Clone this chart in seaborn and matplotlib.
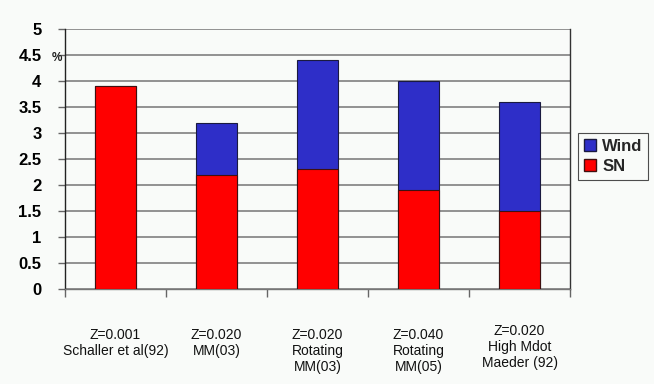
import matplotlib
matplotlib.use("Agg")
import matplotlib.pyplot as plt
import matplotlib.transforms as mtransforms
from matplotlib.patches import Patch
import numpy as np
import pandas as pd
import seaborn as sns

# Model runs (x categories)
categories = [
    "Z=0.001\nSchaller et al(92)",
    "Z=0.020\nMM(03)",
    "Z=0.020\nRotating\nMM(03)",
    "Z=0.040\nRotating\nMM(05)",
    "Z=0.020\nHigh Mdot\nMaeder (92)",
]
# Percent contributions
sn_values = [3.9, 2.2, 2.3, 1.9, 1.5]
wind_values = [0.0, 1.0, 2.1, 2.1, 2.1]

y_ticks = [0, 0.5, 1, 1.5, 2, 2.5, 3, 3.5, 4, 4.5, 5]
y_tick_labels = ["0", "0.5", "1", "1.5", "2", "2.5", "3", "3.5", "4", "4.5", "5"]

df = pd.DataFrame({
    "model": categories,
    "SN": sn_values,
    "Wind": wind_values,
})
df["Total"] = df["SN"] + df["Wind"]

bg = "#f9fbf9"
red = "#ff0000"
blue = "#2e2ec8"

sns.set_theme(style="white")
plt.rcParams["font.family"] = ["Liberation Sans", "DejaVu Sans"]

fig = plt.figure(figsize=(6.54, 3.84), dpi=100, facecolor=bg)
ax = fig.add_axes([65 / 654, 1 - 289 / 384, 505 / 654, 260 / 384])
ax.set_facecolor(bg)

# Stacked bars: total height in blue, SN portion in red on top of it
sns.barplot(data=df, x="model", y="Total", order=categories, color=blue,
            width=0.41, edgecolor="#1a1a40", linewidth=0.8, saturation=1,
            ax=ax, zorder=3)
sns.barplot(data=df, x="model", y="SN", order=categories, color=red,
            width=0.41, edgecolor="#401010", linewidth=0.8, saturation=1,
            ax=ax, zorder=4)

ax.set_xlim(-0.5, len(categories) - 0.5)
ax.set_ylim(0, 5)
ax.set_xlabel("")
ax.set_ylabel("")

# Horizontal gridlines
ax.set_yticks(y_ticks)
ax.set_yticklabels(y_tick_labels, fontsize=12, fontweight="bold", color="#000000")
ax.yaxis.grid(True, color="#8a8a8a", linewidth=1.3, zorder=0)
ax.set_axisbelow(True)
ax.tick_params(axis="y", length=5, width=1, color="#666666", pad=12, left=True)

# Category labels with tick marks at category boundaries
ax.set_xticks(range(len(categories)))
ax.set_xticklabels(categories, fontsize=10, color="#111111", linespacing=1.2,
                   va="top")
ax.tick_params(axis="x", which="major", length=0, pad=28)
ax.set_xticks(np.arange(-0.5, len(categories), 1.0), minor=True)
ax.tick_params(axis="x", which="minor", length=6, width=1, color="#666666",
               bottom=True)

lbls = ax.get_xticklabels()
shift = mtransforms.ScaledTranslation(0, 4 / 100, fig.dpi_scale_trans)
lbls[-1].set_transform(lbls[-1].get_transform() + shift)

ax.spines["top"].set_visible(False)
ax.spines["left"].set_color("#222222")
ax.spines["left"].set_linewidth(1.0)
ax.spines["bottom"].set_color("#777777")
ax.spines["bottom"].set_linewidth(1.0)
ax.spines["right"].set_color("#333333")
ax.spines["right"].set_linewidth(1.0)

# Unit marker beside the 4.5 tick
ax.text(-0.026, 4.44, "%", transform=ax.get_yaxis_transform(), fontsize=8.5,
        fontweight="bold", color="#222222", ha="left", va="center")

handles = [Patch(facecolor=blue, edgecolor="#1a1a40", label="Wind"),
           Patch(facecolor=red, edgecolor="#401010", label="SN")]
leg = fig.legend(handles=handles, loc="upper left",
                 bbox_to_anchor=(578 / 654, 1 - 133 / 384),
                 frameon=True, fancybox=False, facecolor=bg, edgecolor="#222222",
                 prop={"weight": "bold", "size": 12}, handlelength=0.75,
                 handleheight=0.75, handletextpad=0.35, borderpad=0.35,
                 labelspacing=0.3, borderaxespad=0)
leg.get_frame().set_linewidth(0.8)

fig.savefig("out.png", dpi=100, facecolor=bg)
